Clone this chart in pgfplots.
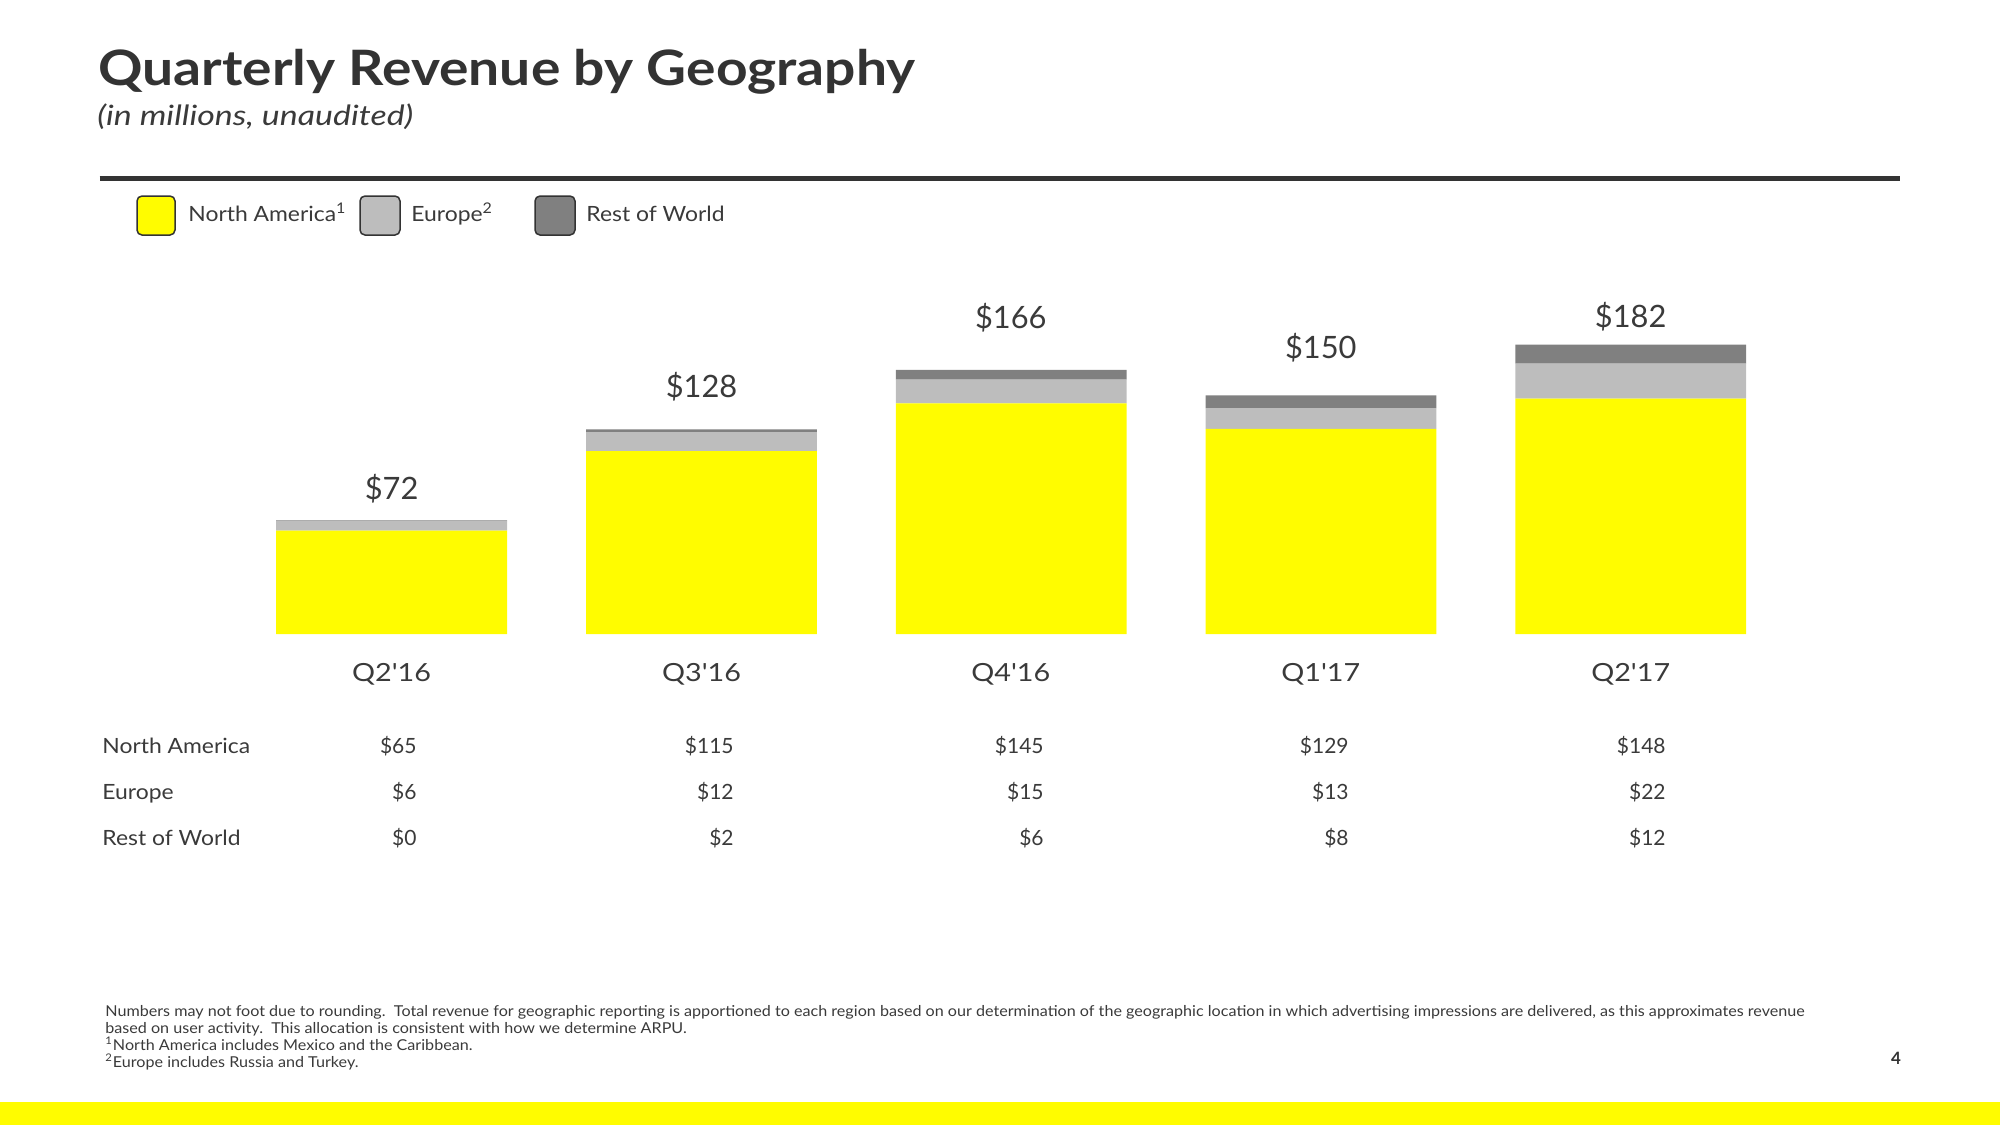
\documentclass[border=0pt]{standalone}
\usepackage{pgfplots}
\pgfplotsset{compat=1.18}
\usepackage{fontspec}
\setmainfont{Lato}
\newfontfamily\widefont{Lato}[FakeStretch=1.09]
\newfontfamily\catfont{Lato}[FakeStretch=1.15]
\newfontfamily\titlefont{Lato}[FakeStretch=1.13]
\newfontfamily\subfont{Lato}[FakeStretch=1.21]
\newfontfamily\footfont{Lato}[FakeStretch=1.075]
\definecolor{snapyellow}{HTML}{FFFC00}
\definecolor{eugray}{HTML}{BDBDBD}
\definecolor{rowgray}{HTML}{808080}
\definecolor{txt}{HTML}{3A3A3A}
\definecolor{rulec}{HTML}{333333}
\newcommand{\fs}[1]{\fontsize{#1pt}{#1pt}\selectfont}
\newcommand{\ap}{\char"27\relax}
\begin{document}
\begin{tikzpicture}[x=0.5pt,y=-0.5pt]
\useasboundingbox (0,0) rectangle (2000,1125);
% title block
\node[anchor=base west, inner sep=0pt, text=rulec] at (98,85) {\titlefont\fs{24.4}\bfseries Quarterly Revenue by Geography};
\node[anchor=base west, inner sep=0pt, text=txt] at (97,125) {\subfont\fs{14}\itshape (in millions, unaudited)};
\draw[rulec, line width=2.5pt] (99.5,178.5) -- (1900,178.5);
% legend
\draw[rulec, line width=0.75pt, rounded corners=2.5pt, fill=snapyellow] (137,196) rectangle (175,235);
\draw[rulec, line width=0.75pt, rounded corners=2.5pt, fill=eugray] (360,196) rectangle (400,235);
\draw[rulec, line width=0.75pt, rounded corners=2.5pt, fill=rowgray] (535,196) rectangle (575,235);
\node[anchor=base west, inner sep=0pt, text=txt] at (188,221) {\widefont\fs{10.5}North America\textsuperscript{1}};
\node[anchor=base west, inner sep=0pt, text=txt] at (411,221) {\widefont\fs{10.5}Europe\textsuperscript{2}};
\node[anchor=base west, inner sep=0pt, text=txt] at (586,221) {\widefont\fs{10.5}Rest of World};
% bars
\begin{axis}[at={(118.35pt,-317pt)}, anchor=south west, scale only axis,
  width=774.5pt, height=159.05pt, xmin=-0.5, xmax=4.5, ymin=0, ymax=200,
  enlargelimits=false, hide axis, ybar stacked, bar width=0.745, clip=false]
\addplot[fill=snapyellow, draw=none] coordinates {(0,65) (1,115) (2,145) (3,129) (4,148)};
\addplot[fill=eugray, draw=none] coordinates {(0,6) (1,12) (2,15) (3,13) (4,22)};
\addplot[fill=rowgray, draw=none] coordinates {(0,0.4) (1,1.6) (2,6) (3,8) (4,12)};
\end{axis}
% totals
\node[anchor=base, inner sep=0pt, text=txt] at (391.6,499.5) {\fs{15.4}\$72};
\node[anchor=base, inner sep=0pt, text=txt] at (701.5,397.5) {\fs{15.4}\$128};
\node[anchor=base, inner sep=0pt, text=txt] at (1010.8,328.6) {\fs{15.4}\$166};
\node[anchor=base, inner sep=0pt, text=txt] at (1320.8,358) {\fs{15.4}\$150};
\node[anchor=base, inner sep=0pt, text=txt] at (1630.7,327.3) {\fs{15.4}\$182};
% categories
\node[anchor=base, inner sep=0pt, text=txt] at (391.6,681) {\catfont\fs{12.5}Q2\ap16};
\node[anchor=base, inner sep=0pt, text=txt] at (701.5,681) {\catfont\fs{12.5}Q3\ap16};
\node[anchor=base, inner sep=0pt, text=txt] at (1010.8,681) {\catfont\fs{12.5}Q4\ap16};
\node[anchor=base, inner sep=0pt, text=txt] at (1320.8,681) {\catfont\fs{12.5}Q1\ap17};
\node[anchor=base, inner sep=0pt, text=txt] at (1630.7,681) {\catfont\fs{12.5}Q2\ap17};
% table
\node[anchor=base west, inner sep=0pt, text=txt] at (102,753) {\widefont\fs{10.5}North America};
\node[anchor=base west, inner sep=0pt, text=txt] at (102,799) {\widefont\fs{10.5}Europe};
\node[anchor=base west, inner sep=0pt, text=txt] at (102,845) {\widefont\fs{10.5}Rest of World};
\foreach \x/\a/\b/\c in {417/65/6/0, 734/115/12/2, 1044/145/15/6, 1349/129/13/8, 1666/148/22/12} {
  \node[anchor=base east, inner sep=0pt, text=txt] at (\x,753) {\fs{10.5}\$\a};
  \node[anchor=base east, inner sep=0pt, text=txt] at (\x,799) {\fs{10.5}\$\b};
  \node[anchor=base east, inner sep=0pt, text=txt] at (\x,845) {\fs{10.5}\$\c};
}
% footnote
\node[anchor=base west, inner sep=0pt, text=txt, align=left, font=\footfont\fontsize{7.5pt}{8.5pt}\selectfont] at (105,1067.5) {Numbers may not foot due to rounding.\ \ Total revenue for geographic reporting is apportioned to each region based on our determination of the geographic location in which advertising impressions are delivered, as this approximates revenue\\based on user activity.\ \ This allocation is consistent with how we determine ARPU.\\\textsuperscript{1}North America includes Mexico and the Caribbean.\\\textsuperscript{2}Europe includes Russia and Turkey.};
\node[anchor=base, inner sep=0pt, text=rulec] at (1896,1064) {\fs{8.5}\bfseries 4};
% bottom band
\fill[snapyellow] (0,1102) rectangle (2000,1125);
\end{tikzpicture}
\end{document}
